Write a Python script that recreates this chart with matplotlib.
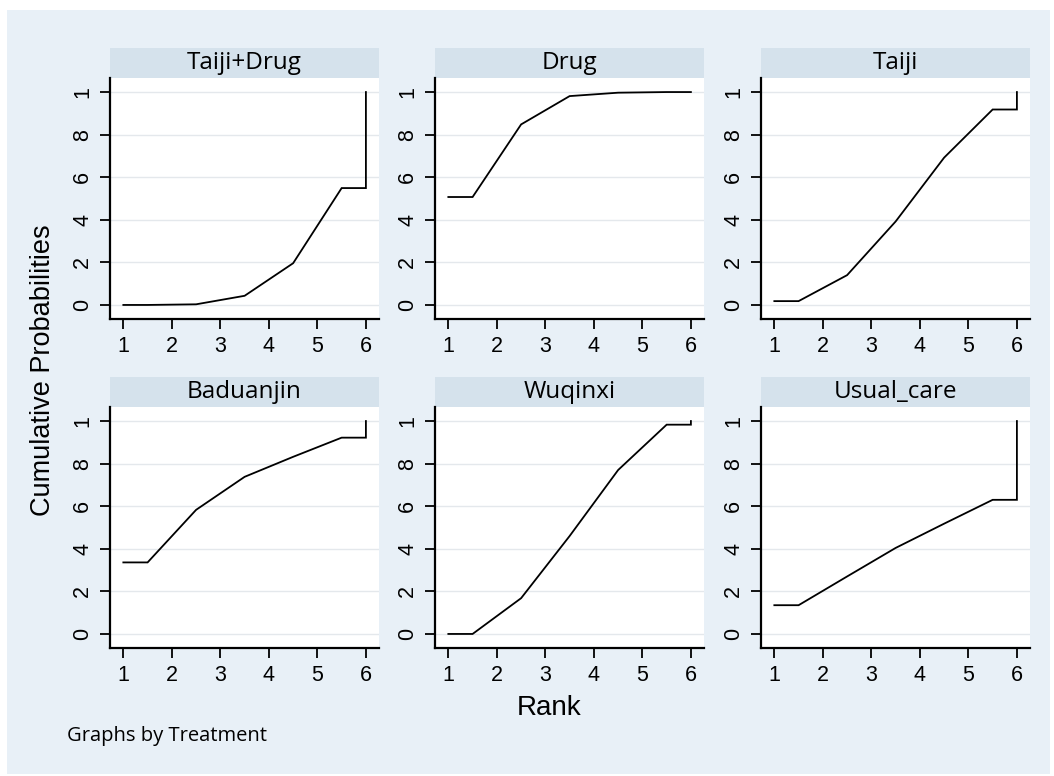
import matplotlib.pyplot as plt
from matplotlib.patches import Rectangle

# cumulative ranking probabilities (SUCRA curves), one list per treatment
rank_pos = [1, 1.5, 2.5, 3.5, 4.5, 5.5, 6, 6]
taiji_drug = [0.0, 0.0, 0.003, 0.043, 0.196, 0.549, 0.549, 1.0]
drug = [0.507, 0.507, 0.848, 0.981, 0.997, 1.0, 1.0, 1.0]
taiji = [0.018, 0.018, 0.14, 0.392, 0.692, 0.918, 0.918, 1.0]
baduanjin = [0.336, 0.336, 0.583, 0.738, 0.832, 0.922, 0.922, 1.0]
wuqinxi = [0.0, 0.0, 0.168, 0.46, 0.77, 0.983, 0.983, 1.0]
usual_care = [0.135, 0.135, 0.27, 0.404, 0.518, 0.63, 0.63, 1.0]

treatments = ["Taiji+Drug", "Drug", "Taiji", "Baduanjin", "Wuqinxi", "Usual_care"]
curves = [taiji_drug, drug, taiji, baduanjin, wuqinxi, usual_care]

x_ticks = [1, 2, 3, 4, 5, 6]
y_ticks = [0, 0.2, 0.4, 0.6, 0.8, 1.0]
y_ticklabels = ["0", "2", "4", "6", "8", "1"]

W, H = 1054, 776
BG = "#e8f0f7"
STRIP = "#d5e2ec"
NUM_FONT = ["Liberation Sans", "DejaVu Sans"]
TXT_FONT = ["Open Sans", "DejaVu Sans"]

fig = plt.figure(figsize=(W / 100, H / 100), dpi=100)
fig.patch.set_facecolor("white")
fig.add_artist(Rectangle((7 / W, 2 / H), 1043 / W, 764 / H,
                         transform=fig.transFigure, facecolor=BG,
                         edgecolor="none", zorder=-10))

col_left = [110, 435, 761]
row_top = [78, 407]
pw, ph = 269, 241
strip_h = 30

for i, (name, vals) in enumerate(zip(treatments, curves)):
    r, c = divmod(i, 3)
    left = col_left[c] / W
    bottom = 1 - (row_top[r] + ph) / H
    ax = fig.add_axes([left, bottom, pw / W, ph / H])
    ax.set_facecolor("white")
    ax.plot(rank_pos, vals, color="black", lw=1.3, solid_joinstyle="miter")
    ax.set_xlim(0.725, 6.27)
    ax.set_ylim(-0.066, 1.066)
    ax.set_xticks(x_ticks)
    ax.set_yticks(y_ticks)
    ax.set_xticklabels([str(t) for t in x_ticks], family=NUM_FONT, fontsize=15.5)
    ax.set_yticklabels(y_ticklabels, family=NUM_FONT, fontsize=15.5,
                       rotation=90, va="center")
    ax.tick_params(direction="out", length=7, width=1.3, pad=5, color="black")
    ax.grid(axis="y", color="#e4e8ec", lw=1)
    ax.set_axisbelow(True)
    for s in ["top", "right"]:
        ax.spines[s].set_visible(False)
    for s in ["left", "bottom"]:
        ax.spines[s].set_linewidth(1.6)
    # strip title on top of each panel
    ax.add_patch(Rectangle((0, 1), 1, strip_h / ph, transform=ax.transAxes,
                           facecolor=STRIP, edgecolor="none", clip_on=False))
    ax.text(0.5, 1 + strip_h / ph / 2, name, transform=ax.transAxes,
            ha="center", va="center", fontsize=17.5, family=TXT_FONT)

fig.text(43 / W, 1 - 370 / H, "Cumulative Probabilities", rotation=90,
         ha="center", va="center", fontsize=19.5, family=NUM_FONT)
fig.text(549 / W, 1 - 708 / H, "Rank", ha="center", va="center",
         fontsize=20, family=NUM_FONT)
fig.text(67 / W, 1 - 736 / H, "Graphs by Treatment", ha="left", va="center",
         fontsize=14.5, family=TXT_FONT)

fig.savefig("out.png", dpi=100)
plt.close(fig)
